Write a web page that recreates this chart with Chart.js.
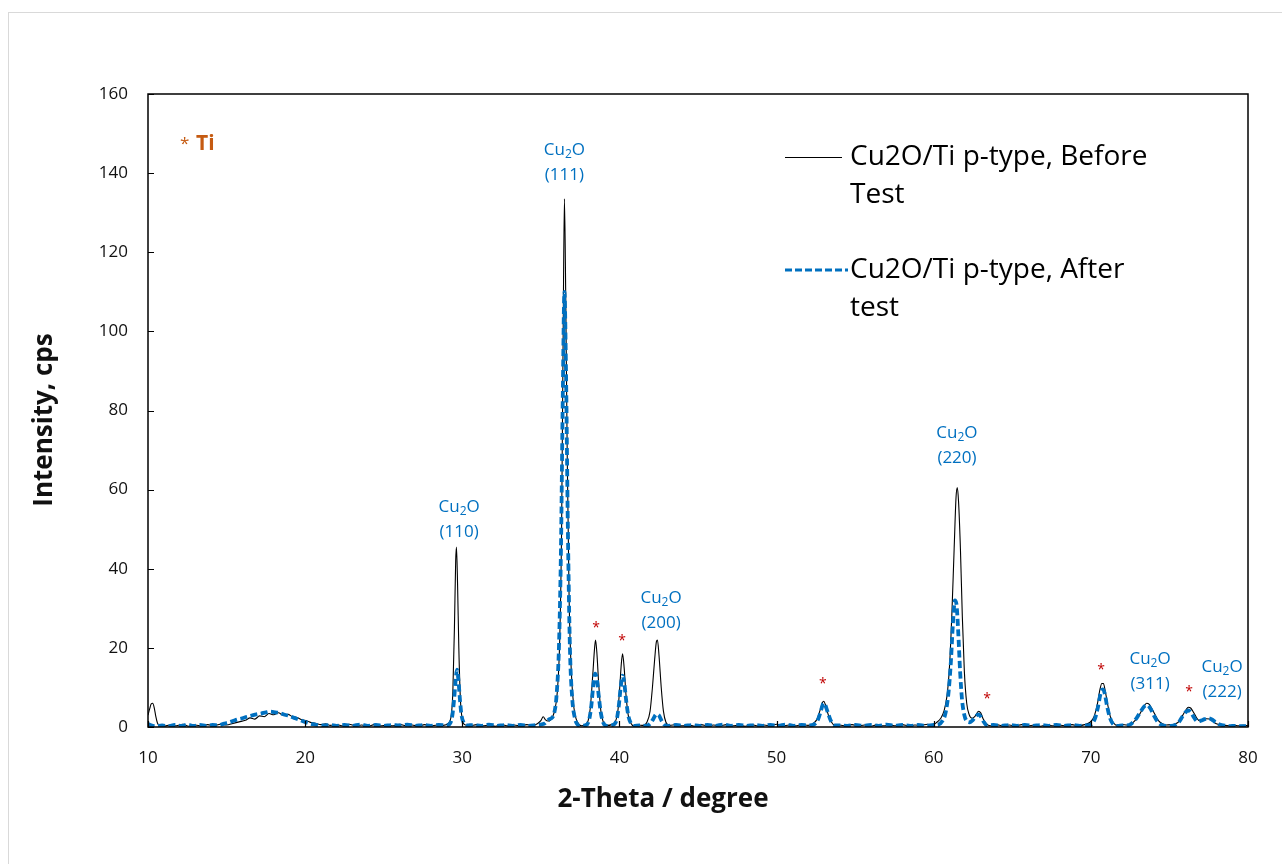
<!DOCTYPE html>
<html lang="en">
<head>
<meta charset="UTF-8" />
<title>XRD Cu2O/Ti p-type</title>
<style>
  html, body { margin: 0; padding: 0; background: #fff; }
  .wrap { position: relative; width: 1282px; height: 864px; overflow: hidden; }
  .frame {
    position: absolute; left: 8px; top: 12px; width: 1300px; height: 900px;
    border: 1px solid #d9d9d9; box-sizing: border-box;
  }
  canvas { position: absolute; left: 0; top: 0; }
</style>
</head>
<body>
<div class="wrap">
  <div class="frame"></div>
  <canvas id="xrd" width="1282" height="864"></canvas>
</div>
<script src="https://cdn.jsdelivr.net/npm/chart.js"></script>
<script>
// 2-theta / intensity, "Before Test"
const beforeX = [10.0,10.1,10.2,10.3,10.4,10.5,10.6,10.75,11.0,11.4,11.8,12.2,12.6,13.0,13.4,13.8,14.2,14.6,15.0,15.4,15.8,16.2,16.5,16.8,17.1,17.4,17.7,18.0,18.3,18.6,18.9,19.2,19.5,19.8,20.1,20.4,20.7,21.0,21.3,21.6,22.0,22.4,22.8,23.2,23.6,24.0,24.4,24.8,25.2,25.6,26.0,26.4,26.8,27.2,27.6,28.0,28.4,28.8,29.1,29.3,29.4,29.5,29.58,29.63,29.7,29.78,29.88,30.0,30.15,30.5,30.9,31.3,31.7,32.1,32.5,32.9,33.3,33.7,34.1,34.5,34.8,35.0,35.15,35.3,35.45,35.6,35.75,35.9,36.05,36.2,36.32,36.42,36.5,36.58,36.68,36.8,36.95,37.1,37.25,37.4,37.6,37.8,38.0,38.15,38.3,38.42,38.48,38.56,38.68,38.82,38.98,39.2,39.5,39.75,39.9,40.02,40.12,40.2,40.3,40.42,40.56,40.72,40.9,41.2,41.5,41.75,41.95,42.1,42.24,42.35,42.42,42.52,42.66,42.8,42.96,43.2,43.6,44.0,44.4,44.8,45.2,45.6,46.0,46.4,46.8,47.2,47.6,48.0,48.4,48.8,49.2,49.6,50.0,50.4,50.8,51.2,51.6,52.0,52.3,52.55,52.75,52.92,53.0,53.12,53.3,53.5,53.7,54.0,54.4,54.8,55.2,55.6,56.0,56.4,56.8,57.2,57.6,58.0,58.4,58.8,59.2,59.6,59.9,60.2,60.45,60.65,60.85,61.0,61.15,61.3,61.42,61.5,61.58,61.7,61.82,61.95,62.1,62.25,62.45,62.65,62.85,63.0,63.15,63.35,63.6,64.0,64.4,64.8,65.2,65.6,66.0,66.4,66.8,67.2,67.6,68.0,68.4,68.8,69.2,69.6,69.95,70.2,70.4,70.58,70.7,70.8,70.92,71.08,71.25,71.45,71.7,72.0,72.3,72.6,72.85,73.1,73.35,73.55,73.7,73.9,74.1,74.3,74.55,74.8,75.1,75.4,75.65,75.85,76.05,76.2,76.35,76.55,76.75,76.95,77.15,77.35,77.55,77.75,77.95,78.2,78.5,78.8,79.1,79.4,79.7,80.0];
const beforeY = [3.0,4.5,5.8,6.0,4.8,2.6,1.0,0.3,0.2,0.5,0.3,0.7,0.2,0.5,0.3,0.6,0.3,0.7,0.5,0.9,1.3,1.7,2.3,2.0,2.8,2.6,3.4,3.1,3.6,3.0,3.2,2.6,2.4,1.8,1.6,1.1,0.9,0.6,0.8,0.4,0.6,0.3,0.7,0.3,0.5,0.2,0.6,0.3,0.5,0.3,0.7,0.3,0.5,0.2,0.6,0.3,0.5,0.4,0.9,3.0,9.0,25,42,45.5,36,20,7,2.0,0.6,0.3,0.6,0.3,0.5,0.2,0.6,0.3,0.5,0.3,0.6,0.4,0.9,1.6,2.6,1.8,1.5,1.7,2.6,4.5,9,22,50,100,133.5,110,68,32,13,5,2,0.8,0.3,0.6,1.5,5,13,20,22,19,11,4,1.2,0.4,0.6,1.4,4,10,16,18.5,15,8,3,1,0.3,0.5,0.4,1.2,4,10,17,21.5,22,18,10,4,1.2,0.4,0.6,0.3,0.5,0.2,0.6,0.3,0.5,0.3,0.6,0.3,0.5,0.2,0.6,0.3,0.5,0.3,0.7,0.3,0.5,0.3,0.6,0.4,0.8,1.8,4,6.2,6.5,5.5,3,1.2,0.4,0.5,0.3,0.6,0.3,0.5,0.2,0.6,0.3,0.5,0.3,0.6,0.3,0.5,0.4,0.7,0.5,1.2,2.2,4,8,15,28,45,58,60.5,57,45,28,14,6,3.2,2.2,2.8,4,3.5,2,0.8,0.3,0.6,0.3,0.5,0.3,0.6,0.3,0.5,0.2,0.6,0.3,0.5,0.3,0.6,0.3,0.6,1.2,2.6,5.5,9.5,11,11,9,5.5,2.5,1,0.4,0.6,0.5,0.9,1.8,3.2,5,6,5.8,4.5,3,1.6,0.8,0.5,0.6,0.8,1.6,3,4.3,5,4.8,3.6,2.2,1.5,1.8,2.1,2.0,1.5,0.9,0.6,0.4,0.3,0.5,0.3,0.4,0.3];

// "After test"
const afterX = [10.0,10.2,10.5,10.9,11.3,11.7,12.1,12.5,12.9,13.3,13.7,14.1,14.5,14.8,15.1,15.4,15.7,16.0,16.3,16.6,16.9,17.2,17.5,17.8,18.1,18.4,18.7,19.0,19.3,19.6,19.9,20.2,20.5,20.8,21.2,21.6,22.0,22.5,23.0,23.5,24.0,24.5,25.0,25.5,26.0,26.5,27.0,27.5,28.0,28.5,29.0,29.2,29.35,29.48,29.58,29.66,29.75,29.85,29.95,30.1,30.3,30.7,31.2,31.7,32.2,32.7,33.2,33.7,34.2,34.7,35.2,35.4,35.55,35.7,35.85,36.0,36.15,36.28,36.4,36.5,36.6,36.72,36.85,37.0,37.15,37.3,37.5,37.8,38.05,38.2,38.35,38.45,38.55,38.68,38.82,38.98,39.2,39.55,39.8,39.95,40.08,40.2,40.3,40.42,40.56,40.72,40.9,41.3,41.7,41.95,42.15,42.35,42.5,42.68,42.85,43.1,43.6,44.1,44.6,45.1,45.6,46.1,46.6,47.1,47.6,48.1,48.6,49.1,49.6,50.1,50.6,51.1,51.6,52.0,52.4,52.65,52.85,52.98,53.08,53.25,53.45,53.65,54.0,54.5,55.0,55.5,56.0,56.5,57.0,57.5,58.0,58.5,59.0,59.5,60.0,60.3,60.55,60.75,60.95,61.1,61.22,61.35,61.45,61.56,61.68,61.8,61.95,62.1,62.3,62.5,62.7,62.85,63.0,63.2,63.4,63.8,64.3,64.8,65.3,65.8,66.3,66.8,67.3,67.8,68.3,68.8,69.3,69.7,70.0,70.25,70.45,70.62,70.75,70.88,71.02,71.2,71.4,71.7,72.0,72.3,72.6,72.9,73.15,73.4,73.6,73.8,74.0,74.2,74.45,74.8,75.1,75.4,75.65,75.85,76.05,76.2,76.38,76.58,76.8,77.0,77.25,77.5,77.7,77.9,78.15,78.45,78.8,79.2,79.6,80.0];
const afterY = [0.8,0.4,0.2,0.4,0.2,0.5,0.3,0.6,0.3,0.5,0.3,0.5,0.4,0.8,1.1,1.5,1.9,2.2,2.6,2.9,3.2,3.4,3.7,3.9,3.7,3.5,3.1,2.8,2.3,1.9,1.4,1.0,0.7,0.5,0.4,0.5,0.3,0.5,0.3,0.6,0.3,0.5,0.3,0.5,0.4,0.6,0.3,0.5,0.3,0.5,0.4,0.8,2.5,7,12,14.5,12,7,3,1,0.4,0.5,0.3,0.6,0.3,0.5,0.3,0.5,0.3,0.5,0.8,1.5,2.0,2.3,3.5,8,20,45,85,110,90,50,20,7,2.5,0.8,0.3,0.4,1.5,5,11,13.5,12.5,8,3.5,1,0.3,0.5,1.5,5,10,13,11.5,7,3,1,0.3,0.4,0.3,0.8,2,3.2,3,1.6,0.6,0.3,0.5,0.3,0.5,0.3,0.5,0.3,0.6,0.3,0.5,0.3,0.5,0.3,0.5,0.3,0.6,0.3,0.5,0.4,0.7,2,4.5,6,5.7,3.8,1.6,0.5,0.4,0.3,0.5,0.3,0.5,0.3,0.6,0.3,0.5,0.3,0.5,0.3,0.5,0.6,1.5,3.5,9,17,26,32,31,24,14,7,3,1.5,1.2,1.8,2.8,3.2,2.6,1.2,0.4,0.5,0.3,0.5,0.3,0.5,0.3,0.5,0.3,0.5,0.3,0.5,0.3,0.4,0.6,2,5,8.5,9.5,8.5,5.5,2.5,0.8,0.3,0.4,0.4,0.9,2.2,3.8,5.2,5.5,4.6,3,1.6,0.6,0.3,0.3,0.6,1.5,2.8,3.8,4.2,3.6,2.3,1.4,1.6,2.0,2.2,1.9,1.3,0.7,0.4,0.2,0.3,0.2,0.2];

const xTicks = [10, 20, 30, 40, 50, 60, 70, 80];
const yTicks = [0, 20, 40, 60, 80, 100, 120, 140, 160];

// peak labels: position (2-theta, intensity of first line) and Miller index
const peakX   = [29.8, 36.5, 42.65, 61.48, 73.77, 78.35];
const peakY   = [55.6, 145.9, 32.6, 74.3, 17.2, 15.2];
const peakHkl = ['(110)', '(111)', '(200)', '(220)', '(311)', '(222)'];

// Ti reflections (red asterisks)
const tiX = [38.51, 40.17, 52.95, 63.4, 70.65, 76.25];
const tiY = [25.8, 22.5, 11.6, 7.8, 15.2, 9.6];

const legendLabels = [['Cu2O/Ti p-type, Before', 'Test'], ['Cu2O/Ti p-type, After', 'test']];
const xTitle = '2-Theta / degree';
const yTitle = 'Intensity, cps';

const BLUE = '#0070c0';
const FONT = "'Open Sans', 'Noto Sans', sans-serif";

function pts(xs, ys) { return xs.map((v, i) => ({ x: v, y: ys[i] })); }

const decorations = {
  id: 'decorations',
  afterDatasetsDraw(chart) {
    const { ctx, chartArea: a, scales: { x, y } } = chart;
    ctx.save();

    // frame + inside ticks
    ctx.strokeStyle = '#000';
    ctx.lineWidth = 1.5;
    ctx.strokeRect(a.left, a.top, a.right - a.left, a.bottom - a.top);
    ctx.lineWidth = 1.2;
    ctx.beginPath();
    xTicks.forEach(v => {
      const px = Math.round(x.getPixelForValue(v)) + 0.5;
      ctx.moveTo(px, a.bottom); ctx.lineTo(px, a.bottom - 6);
    });
    yTicks.forEach(v => {
      const py = Math.round(y.getPixelForValue(v)) + 0.5;
      ctx.moveTo(a.left, py); ctx.lineTo(a.left + 6, py);
    });
    ctx.stroke();

    // axis titles (Excel puts them a bit off the plot centre)
    ctx.fillStyle = '#111';
    ctx.font = 'bold 26px ' + FONT;
    ctx.textAlign = 'center';
    ctx.textBaseline = 'middle';
    ctx.fillText(xTitle, 663, 800);
    ctx.save();
    ctx.translate(45, 420);
    ctx.rotate(-Math.PI / 2);
    ctx.fillText(yTitle, 0, 0);
    ctx.restore();

    // Cu2O peak labels
    ctx.fillStyle = BLUE;
    peakX.forEach((v, i) => {
      const cx = x.getPixelForValue(v), cy = y.getPixelForValue(peakY[i]);
      ctx.font = '17px ' + FONT;
      const wCu = ctx.measureText('Cu').width, wO = ctx.measureText('O').width;
      ctx.font = '12px ' + FONT;
      const w2 = ctx.measureText('2').width;
      let sx = cx - (wCu + w2 + wO) / 2;
      ctx.textAlign = 'left';
      ctx.font = '17px ' + FONT;
      ctx.fillText('Cu', sx, cy);
      ctx.font = '12px ' + FONT;
      ctx.fillText('2', sx + wCu, cy + 5);
      ctx.font = '17px ' + FONT;
      ctx.fillText('O', sx + wCu + w2, cy);
      ctx.textAlign = 'center';
      ctx.fillText(peakHkl[i], cx, cy + 25);
    });

    // Ti asterisks
    ctx.fillStyle = '#c00000';
    ctx.font = '14px ' + FONT;
    ctx.textAlign = 'center';
    tiX.forEach((v, i) => {
      ctx.fillText('*', x.getPixelForValue(v), y.getPixelForValue(tiY[i]) + 3);
    });

    // "* Ti" key
    ctx.fillStyle = '#c55a11';
    ctx.textAlign = 'left';
    ctx.font = '17px ' + FONT;
    ctx.fillText('*', a.left + 32, a.top + 50);
    ctx.font = 'bold 21px ' + FONT;
    ctx.fillText('Ti', a.left + 48, a.top + 50);

    // legend
    ctx.fillStyle = '#000';
    ctx.font = '28px ' + FONT;
    const lx = 785, tx = 850, rows = [157, 270];
    ctx.strokeStyle = '#000'; ctx.lineWidth = 1;
    ctx.beginPath(); ctx.moveTo(lx, rows[0] + 0.5); ctx.lineTo(lx + 57, rows[0] + 0.5); ctx.stroke();
    ctx.strokeStyle = BLUE; ctx.lineWidth = 3; ctx.setLineDash([7, 3]);
    ctx.beginPath(); ctx.moveTo(lx, rows[1]); ctx.lineTo(lx + 63, rows[1]); ctx.stroke();
    ctx.setLineDash([]);
    legendLabels.forEach((lines, i) => {
      lines.forEach((t, j) => ctx.fillText(t, tx, rows[i] + j * 38));
    });

    ctx.restore();
  }
};

new Chart(document.getElementById('xrd'), {
  type: 'line',
  data: {
    datasets: [
      {
        label: legendLabels[0].join(' '),
        data: pts(beforeX, beforeY),
        borderColor: '#000',
        borderWidth: 1.1,
        pointRadius: 0,
        cubicInterpolationMode: 'monotone',
        order: 2
      },
      {
        label: legendLabels[1].join(' '),
        data: pts(afterX, afterY),
        borderColor: BLUE,
        borderWidth: 3.8,
        borderDash: [7, 3.5],
        pointRadius: 0,
        cubicInterpolationMode: 'monotone',
        order: 1
      }
    ]
  },
  options: {
    responsive: false,
    animation: false,
    devicePixelRatio: 1,
    layout: { padding: { top: 94, right: 34, left: 0, bottom: 0 } },
    plugins: { legend: { display: false }, tooltip: { enabled: false } },
    scales: {
      x: {
        type: 'linear', min: 10, max: 80,
        afterBuildTicks: s => { s.ticks = xTicks.map(v => ({ value: v })); },
        afterFit: s => { s.height = 137; },
        grid: { display: false, drawTicks: false },
        border: { display: false },
        ticks: { padding: 21, color: '#111', font: { family: FONT, size: 17 }, maxRotation: 0 },
        title: { display: false, text: xTitle }
      },
      y: {
        min: 0, max: 160,
        afterBuildTicks: s => { s.ticks = yTicks.map(v => ({ value: v })); },
        afterFit: s => { s.width = 148; },
        grid: { display: false, drawTicks: false },
        border: { display: false },
        ticks: { padding: 20, color: '#111', font: { family: FONT, size: 17 } },
        title: { display: false, text: yTitle }
      }
    }
  },
  plugins: [decorations]
});
</script>
</body>
</html>
